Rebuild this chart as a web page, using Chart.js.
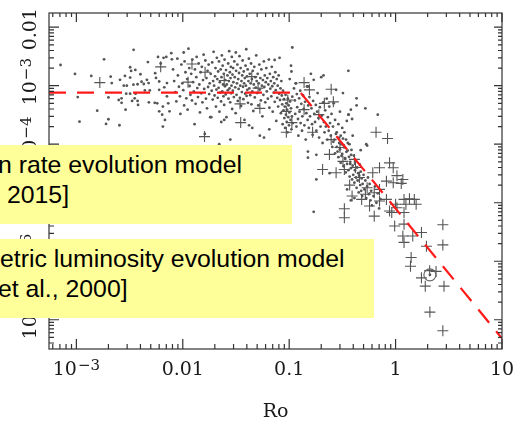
<!DOCTYPE html>
<html>
<head>
<meta charset="utf-8">
<script src="https://cdn.jsdelivr.net/npm/chart.js@4/dist/chart.umd.min.js"></script>
<style>
  body { margin: 0; background: #fff; }
  #wrap { position: relative; width: 517px; height: 424px; overflow: hidden; }
  .note { position: absolute; left: 0; background: #ffff99; overflow: hidden;
          font-family: 'Liberation Sans', Arial, sans-serif; font-size: 24.8px; color: #000; }
  .note span { position: absolute; white-space: nowrap; line-height: 29px; }
</style>
</head>
<body>
<div id="wrap">
  <canvas id="chart" width="517" height="424"></canvas>
  <div class="note" style="top:145px;width:292px;height:79px">
    <span style="left:-2px;top:5px">n rate evolution model</span>
    <span style="left:7px;top:35px">2015]</span>
  </div>
  <div class="note" style="top:239px;width:374px;height:79px">
    <span style="left:0px;top:5px">etric luminosity evolution model</span>
    <span style="left:-2px;top:35px">et al., 2000]</span>
  </div>
</div>
<script>
// axis ranges (Ro, and the y quantity)
const xMin = 5.53e-4, xMax = 10;
const yMin = 3.16e-8, yMax = 0.0175;

const xTickValues = [1e-3, 0.01, 0.1, 1, 10];
const xTickLabels = [['10', '\u22123'], ['0.01'], ['0.1'], ['1'], ['10']];
const yTickValues = [1e-7, 1e-6, 1e-5, 1e-4, 1e-3, 0.01];
const yTickLabels = [['10', '\u22127'], ['10', '\u22126'], ['10', '\u22125'], ['10', '\u22124'], ['10', '\u22123'], ['0.01']];

// red dashed model: flat (saturated) then falling
const fitRo = [5.53e-4, 0.128, 10];
const fitLum = [7.6e-4, 7.6e-4, 4.8e-8];

// small grey dots [Ro, value]
const dotPoints = [
  [7.1e-4,2.26e-3],[9.7e-4,1.59e-3],[1.38e-3,1.47e-3],[1.82e-3,2.83e-3],[1.03e-3,6.4e-4],[1.57e-3,3.75e-4],
  [1.07e-3,2.43e-4],[2.0e-3,2.67e-4],[1.9e-3,2.22e-4],[2.54e-3,2.11e-4],[2.1e-3,1.43e-3],[2.15e-3,1.11e-3],
  [2.0e-3,6.3e-4],[2.57e-3,1.26e-3],[2.86e-3,1.47e-3],[2.79e-3,1.0e-3],[2.98e-3,1.0e-3],[2.5e-3,5.7e-4],
  [2.66e-3,6.1e-4],[2.66e-3,5.1e-4],[2.9e-3,3.9e-4],[2.94e-3,7.3e-4],[3.2e-3,2.07e-3],[3.27e-3,1.79e-3],
  [3.45e-3,4.1e-3],[3.58e-3,1.86e-3],[3.2e-3,1.38e-3],[3.44e-3,1.04e-3],[3.76e-3,1.06e-3],[4.0e-3,1.57e-3],
  [3.2e-3,7.3e-4],[3.6e-3,7.3e-4],[3.53e-3,6.1e-4],[3.34e-3,5.5e-4],[3.76e-3,5.5e-4],[3.8e-3,4.7e-4],
  [4.1e-3,1.17e-3],[4.3e-3,1.07e-3],[4.7e-3,2.54e-3],[4.6e-3,1.26e-3],[4.77e-3,1.11e-3],[4.4e-3,8.3e-4],
  [4.9e-3,8.3e-4],[4.8e-3,5.2e-4],[5.45e-3,5.1e-4],[5.5e-3,1.64e-3],[5.6e-3,1.36e-3],[5.85e-3,3.1e-3],
  [6.2e-3,2.4e-3],[6.6e-3,3.0e-3],[7.0e-3,3.1e-3],[6.0e-3,1.18e-3],[6.0e-3,8.5e-4],[6.7e-3,9.4e-4],
  [7.1e-3,1.11e-3],[7.1e-3,6.6e-4],[5.75e-3,5.0e-4],[6.5e-3,4.4e-4],[7.3e-3,5.0e-4],[6.0e-3,3.65e-4],
  [6.4e-3,3.2e-4],[6.8e-3,2.6e-4],[6.5e-3,2.0e-4],[7.5e-3,3.65e-4],[7.9e-3,2.83e-3],
  [0.0078,3.6e-3],[0.0081,1.9e-3],[0.0083,1.2e-3],[0.0085,7.8e-4],[0.0087,5.4e-4],[0.0089,2.9e-3],
  [0.0090,1.5e-3],[0.0092,9.6e-4],[0.0094,6.6e-4],[0.0095,3.3e-4],[0.0097,2.3e-3],[0.0099,1.1e-3],
  [0.0101,8.4e-4],[0.0103,4.6e-4],[0.0104,2.6e-3],[0.0106,1.7e-3],[0.0108,6.1e-4],[0.0110,1.3e-3],
  [0.0111,3.9e-4],[0.0113,4.3e-3],[0.0115,2.0e-3],[0.0116,9.9e-4],[0.0118,7.0e-4],[0.0120,1.6e-3],
  [0.0122,5.6e-4],[0.0123,2.8e-3],[0.0125,1.15e-3],[0.0127,8.0e-4],[0.0129,2.2e-4],[0.0130,1.9e-3],
  [0.0132,4.9e-4],[0.0134,1.4e-3],[0.0135,3.1e-3],[0.0137,9.1e-4],[0.0139,6.4e-4],[0.0141,2.4e-3],
  [0.0143,1.05e-3],[0.0145,3.5e-4],[0.0147,1.7e-3],[0.0149,7.4e-4],[0.0151,2.1e-3],[0.0153,5.2e-4],
  [0.0155,1.25e-3],[0.0157,3.4e-3],[0.0159,8.8e-4],[0.0161,1.5e-4],[0.0163,2.7e-3],[0.0165,6.0e-4],
  [0.0167,1.35e-3],[0.0169,4.1e-4],[0.0171,1.8e-3],[0.0173,9.5e-4],[0.0175,2.3e-3],[0.0177,7.2e-4],
  [0.0179,1.1e-3],[0.0181,2.9e-4],[0.0183,1.6e-3],[0.0102,3.7e-3],[0.0187,8.2e-4],[0.0189,2.5e-3],
  [0.0191,5.8e-4],[0.0193,1.2e-3],[0.0195,3.8e-3],[0.0197,1.0e-3],[0.0199,6.8e-4],
  [0.0201,1.45e-3],[0.0203,2.0e-3],[0.0205,4.4e-4],[0.0207,8.6e-4],[0.0209,3.0e-3],[0.0211,1.3e-3],
  [0.0213,6.2e-4],[0.0215,1.75e-3],[0.0217,9.2e-4],[0.0219,2.6e-3],[0.0221,3.6e-4],[0.0223,1.15e-3],
  [0.0225,7.6e-4],[0.0227,1.9e-3],[0.0229,5.4e-4],[0.0231,1.4e-3],[0.0233,3.3e-3],[0.0235,8.0e-4],
  [0.0237,2.2e-3],[0.0239,1.05e-3],[0.0241,6.6e-4],[0.0243,1.6e-3],[0.0245,4.7e-4],[0.0247,2.8e-3],
  [0.0249,9.8e-4],[0.0251,1.25e-3],[0.0253,7.1e-4],[0.0255,1.85e-3],[0.0257,2.9e-4],[0.0259,1.05e-3],
  [0.0315,3.7e-3],[0.0263,1.5e-3],[0.0265,8.4e-4],[0.0267,2.4e-3],[0.0269,6.0e-4],[0.0271,1.2e-3],
  [0.0273,3.9e-3],[0.0275,9.0e-4],[0.0277,1.7e-3],[0.0279,5.2e-4],[0.0281,1.35e-3],[0.0283,2.1e-3],
  [0.0285,7.4e-4],[0.0287,1.0e-3],[0.0289,3.1e-3],[0.0291,4.0e-4],[0.0293,1.55e-3],[0.0295,8.2e-4],
  [0.0297,2.0e-3],[0.0299,1.15e-3],[0.0302,6.4e-4],[0.0305,2.6e-3],[0.0308,1.4e-3],[0.0311,9.4e-4],
  [0.0314,3.4e-4],[0.0317,1.8e-3],[0.0320,7.0e-4],[0.0323,1.1e-3],[0.0326,2.3e-3],[0.0329,5.5e-4],
  [0.0332,1.3e-3],[0.0335,8.8e-4],[0.0338,1.65e-3],[0.0341,3.2e-3],[0.0344,6.2e-4],[0.0347,1.0e-3],
  [0.0350,2.0e-3],[0.0353,4.5e-4],[0.0356,1.2e-3],[0.0359,7.8e-4],[0.0362,1.5e-3],[0.0365,2.7e-3],
  [0.0368,9.6e-4],[0.0371,5.9e-4],[0.0374,1.75e-3],[0.0377,1.1e-3],[0.0380,2.6e-4],[0.0383,1.35e-3],
  [0.0386,7.3e-4],[0.0389,2.2e-3],[0.0392,1.0e-3],[0.0395,4.2e-3],[0.0398,6.7e-4],[0.0401,1.45e-3],
  [0.0404,8.5e-4],[0.0407,1.9e-3],[0.0410,5.1e-4],[0.0414,1.2e-3],[0.0418,2.9e-3],[0.0422,9.0e-4],
  [0.0426,1.6e-3],[0.0430,6.9e-4],[0.0434,1.1e-3],[0.0438,2.4e-3],[0.0442,4.8e-4],[0.0446,1.3e-3],
  [0.0450,8.0e-4],[0.0455,1.8e-3],[0.0460,3.7e-4],[0.0465,1.05e-3],[0.0470,2.1e-3],[0.0475,6.3e-4],
  [0.0480,1.4e-3],[0.0485,9.3e-4],[0.0490,3.3e-3],[0.0495,1.2e-3],
  [0.0500,7.5e-4],[0.0506,1.6e-3],[0.0512,4.6e-4],[0.0518,1.1e-3],[0.0524,2.3e-3],[0.0530,8.6e-4],
  [0.0536,1.35e-3],[0.0542,5.6e-4],[0.0548,1.9e-3],[0.0554,1.0e-3],[0.0560,3.0e-4],[0.0566,1.25e-3],
  [0.0572,7.0e-4],[0.0578,2.6e-3],[0.0584,9.5e-4],[0.0590,1.5e-3],[0.0596,5.2e-4],[0.0602,1.15e-3],
  [0.0609,2.0e-3],[0.0616,8.0e-4],[0.0623,1.35e-3],[0.0630,6.0e-4],[0.0637,1.05e-3],[0.0644,2.8e-3],
  [0.0651,4.2e-4],[0.0658,1.6e-3],[0.0665,8.9e-4],[0.0672,1.2e-3],[0.0679,6.6e-4],[0.0686,2.1e-3],
  [0.0693,9.8e-4],[0.0700,3.6e-4],[0.0708,1.4e-3],[0.0716,7.6e-4],[0.0724,1.1e-3],[0.0732,5.3e-4],
  [0.0740,1.7e-3],[0.0748,8.4e-4],[0.0756,2.5e-4],[0.0764,1.3e-3],[0.0772,6.2e-4],[0.0780,1.0e-3],
  [0.0788,4.4e-4],[0.0796,1.5e-3],[0.0804,7.3e-4],[0.0812,3.0e-3],[0.0820,5.7e-4],[0.0828,9.0e-4],
  [0.0836,3.4e-4],[0.0844,1.2e-3],[0.0852,6.8e-4],[0.0860,4.8e-4],[0.0868,2.2e-4],[0.0876,8.2e-4],
  [0.0884,3.8e-4],[0.0892,5.9e-4],[0.0900,2.8e-4],[0.0908,4.4e-4],[0.0916,1.9e-4],[0.0924,7.0e-4],
  [0.0932,3.2e-4],[0.0940,5.0e-4],[0.0948,2.4e-4],[0.0956,3.9e-4],[0.0964,1.6e-4],[0.0972,6.0e-4],
  [0.0980,2.9e-4],[0.0988,4.6e-4],[0.0996,2.1e-4],[0.1004,3.5e-4],[0.1012,1.3e-3],[0.1020,5.4e-4],
  [0.103,2.6e-4],[0.104,4.1e-4],[0.105,1.8e-4],[0.106,3.0e-4],[0.107,6.5e-4],[0.108,2.3e-4],[0.107,4.5e-3],
  [0.104,2.2e-3],[0.105,1.75e-3],[0.116,1.1e-3],[0.15,9.7e-4],
  [0.023,2.4e-4],[0.0245,2.6e-4],[0.028,1.2e-4],[0.022,1.0e-4],[0.045,1.9e-4],[0.053,1.4e-4],
  [0.058,1.3e-4],[0.065,1.8e-4],[0.042,2.1e-4],[0.0185,2.9e-4],[0.073,2.75e-3],
  [0.111,9.0e-4],[0.113,5.6e-4],[0.114,3.3e-4],[0.115,1.1e-3],[0.117,2.0e-4],[0.118,7.2e-4],
  [0.119,4.3e-4],[0.121,2.7e-4],[0.122,1.4e-4],[0.124,6.1e-4],[0.125,3.6e-4],[0.127,8.2e-4],
  [0.128,2.3e-4],[0.130,4.9e-4],[0.132,1.7e-4],[0.133,3.0e-4],[0.135,6.8e-4],[0.137,4.0e-4],
  [0.139,2.1e-4],[0.141,5.3e-4],[0.143,1.2e-4],[0.145,3.4e-4],[0.147,9.7e-4],[0.149,2.6e-4],
  [0.151,4.6e-4],[0.153,1.9e-4],[0.155,6.4e-4],[0.157,3.0e-4],[0.160,1.6e-3],[0.162,4.1e-4],
  [0.164,2.2e-4],[0.166,1.45e-4],[0.168,5.5e-4],[0.170,1.26e-3],[0.172,3.3e-4],[0.175,2.4e-4],
  [0.178,4.7e-4],[0.180,1.7e-4],[0.183,3.6e-4],[0.185,7.5e-4],[0.188,2.8e-4],[0.191,1.3e-4],
  [0.194,4.3e-4],[0.197,2.0e-4],[0.200,1.4e-3],[0.203,3.1e-4],[0.206,1.05e-4],[0.209,5.2e-4],
  [0.210,1.5e-3],[0.212,2.4e-4],[0.215,1.6e-4],[0.218,3.8e-4],[0.221,2.0e-4],[0.225,6.0e-4],
  [0.228,1.2e-4],[0.231,2.9e-4],[0.235,1.7e-4],[0.238,4.4e-4],[0.242,2.3e-4],[0.246,1.4e-4],
  [0.250,3.3e-4],[0.254,9.0e-5],[0.258,2.0e-4],[0.262,5.0e-4],[0.266,1.2e-4],[0.270,2.6e-4],
  [0.276,8.5e-4],[0.280,1.6e-4],[0.285,7.5e-5],[0.290,2.2e-4],[0.295,1.05e-4],[0.300,3.6e-4],
  [0.305,1.4e-4],[0.310,6.3e-5],[0.315,1.9e-4],[0.32,7.5e-4],[0.325,9.6e-5],[0.330,1.6e-4],
  [0.336,5.6e-5],[0.342,1.2e-4],[0.348,2.5e-4],[0.355,7.8e-5],[0.36,1.8e-3],[0.362,3.2e-4],
  [0.368,1.0e-4],[0.375,4.6e-5],[0.38,3.9e-4],[0.382,6.6e-5],[0.39,2.7e-4],[0.395,1.4e-4],
  [0.43,6.1e-4],[0.43,4.6e-4],[0.52,4.1e-4],[0.68,3.2e-4],[0.36,3.2e-4],
  [0.26,1.1e-4],[0.27,7.0e-5],[0.275,1.5e-4],[0.28,9.0e-5],[0.29,6.0e-5],[0.295,1.3e-4],
  [0.30,8.2e-5],[0.305,4.8e-5],[0.31,1.0e-4],[0.315,6.8e-5],[0.32,1.25e-4],[0.325,4.2e-5],
  [0.33,8.8e-5],[0.335,5.8e-5],[0.34,3.3e-5],[0.345,7.4e-5],[0.35,4.6e-5],[0.355,1.05e-4],
  [0.36,3.6e-5],[0.365,6.1e-5],[0.37,2.8e-5],[0.375,5.0e-5],[0.38,3.9e-5],[0.385,8.0e-5],
  [0.39,2.5e-5],[0.395,4.3e-5],[0.40,3.0e-5],[0.405,6.4e-5],[0.41,2.2e-5],[0.415,3.6e-5],
  [0.42,5.2e-5],[0.425,2.7e-5],[0.43,1.8e-5],[0.435,4.0e-5],[0.44,2.4e-5],[0.445,3.2e-5],
  [0.45,1.5e-5],[0.455,2.9e-5],[0.46,4.5e-5],[0.465,2.0e-5],[0.47,3.4e-5],[0.475,1.6e-5],
  [0.48,2.6e-5],[0.485,1.3e-5],[0.49,2.1e-5],[0.50,3.0e-5],[0.51,1.7e-5],[0.52,2.4e-5],
  [0.53,1.2e-5],[0.54,1.9e-5],[0.55,2.7e-5],[0.56,1.4e-5],[0.57,2.1e-5],[0.58,1.1e-5],
  [0.59,1.6e-5],[0.60,9.0e-6],[0.62,1.3e-5],[0.64,1.9e-5],[0.66,1.0e-5],[0.68,1.45e-5],
  [0.70,8.0e-6],[0.72,1.15e-5],[0.47,7.9e-5],[0.54,9.5e-5],[0.53,1.0e-4],[0.15,5.9e-5],
  [0.18,6.6e-5],[0.18,2.5e-5],[0.17,7.0e-6],[0.35,1.69e-5],[0.41,1.2e-5],[0.38,1.1e-5],
  [0.24,3.2e-5],[0.15,7.5e-5],[2.1,5.85e-7]
];

// plus markers [Ro, value]
const crossPoints = [
  [1.66e-3,1.13e-3],[6.2e-3,2.1e-3],[0.0122,2.35e-3],[0.0162,1.7e-3],[0.0112,1.15e-3],[0.0245,1.23e-3],
  [0.0445,1.43e-3],[0.051,9.1e-4],[0.0345,4.9e-4],[0.053,4.1e-4],[0.035,2.34e-4],[0.016,1.35e-4],
  [0.094,1.6e-4],[0.094,3.65e-4],[0.097,5.7e-4],[0.138,1.13e-3],[0.155,8.5e-4],[0.248,8.7e-4],
  [0.214,5.0e-4],[0.26,5.3e-4],[0.138,3.9e-4],[0.106,2.34e-4],[0.166,1.6e-4],[0.248,1.2e-4],
  [0.655,1.6e-4],[0.84,1.25e-4],[0.206,3.7e-5],[0.276,3.25e-5],[0.239,6.7e-5],[0.32,5.1e-5],
  [0.33,3.7e-5],[0.706,3.95e-5],[0.877,4.8e-5],[0.95,3.95e-5],[0.61,3.25e-5],[0.82,2.34e-5],
  [0.95,2.2e-5],[0.54,1.8e-5],[0.63,1.48e-5],[0.569,8.8e-6],[0.706,1.07e-5],[0.82,1.14e-5],
  [1.0,9.4e-6],[0.63,5.9e-6],[0.877,7.2e-6],[0.33,7.9e-6],[0.33,5.55e-6],[1.03,2.9e-5],
  [1.17,2.5e-5],[1.13,2.14e-5],[1.2,1.14e-5],[1.35,1.17e-5],[1.5,1.14e-5],[1.56,9.4e-6],
  [1.25,9.4e-6],[1.03,8.2e-6],[0.92,6.8e-6],[1.2,6.8e-6],[0.98,4.0e-6],[1.2,4.3e-6],
  [2.78,4.2e-6],[1.17,2.7e-6],[1.45,2.7e-6],[1.75,3.1e-6],[1.2,2.1e-6],[1.95,1.8e-6],
  [2.78,1.9e-6],[1.4,1.16e-6],[1.38,8.2e-7],[1.75,5.2e-7],[2.09,6.9e-7],[2.4,6.7e-7],
  [1.9,3.75e-7],[2.85,3.75e-7],[2.1,1.35e-7],[2.78,6.5e-8],
  [0.41,5.5e-5],[0.457,2.7e-5],[0.37,2.0e-5],[0.52,1.4e-5],[0.19,3.2e-4],[0.3,8.8e-5],
  [0.42,4.0e-5],[0.48,1.14e-5],[0.706,1.69e-5],[0.39,1.3e-5]
];

// open circle marker
const circlePoints = [[2.1, 5.85e-7]];

const toXY = arr => arr.map(p => ({ x: p[0], y: p[1] }));

const TICK_FONT = '"DejaVu Serif", serif';

function drawLabel(ctx, parts, x, y, rotate) {
  ctx.save();
  ctx.translate(x, y);
  if (rotate) ctx.rotate(-Math.PI / 2);
  ctx.fillStyle = '#1a1a1a';
  ctx.textAlign = 'left';
  ctx.textBaseline = 'alphabetic';
  ctx.font = '19px ' + TICK_FONT;
  const wBase = ctx.measureText(parts[0]).width;
  let wSup = 0;
  if (parts[1]) {
    ctx.font = '15px ' + TICK_FONT;
    wSup = ctx.measureText(parts[1]).width + 1;
  }
  const start = -(wBase + wSup) / 2;
  ctx.font = '19px ' + TICK_FONT;
  ctx.fillText(parts[0], start, 0);
  if (parts[1]) {
    ctx.font = '15px ' + TICK_FONT;
    ctx.fillText(parts[1], start + wBase + 1, -5);
  }
  ctx.restore();
}

const framePlugin = {
  id: 'frame',
  afterDatasetsDraw(chart) {
    const { ctx, chartArea: a, scales: { x, y } } = chart;
    ctx.save();
    ctx.strokeStyle = '#333';
    ctx.lineWidth = 1.2;
    ctx.strokeRect(a.left, a.top, a.right - a.left, a.bottom - a.top);
    ctx.beginPath();
    for (let d = -4; d <= 1; d++) {
      for (let k = 1; k <= 9; k++) {
        const v = k * Math.pow(10, d);
        if (v < x.min || v > x.max) continue;
        const px = x.getPixelForValue(v);
        const len = k === 1 ? 10 : 5;
        ctx.moveTo(px, a.bottom); ctx.lineTo(px, a.bottom - len);
        ctx.moveTo(px, a.top); ctx.lineTo(px, a.top + (k === 1 ? 9 : 4));
      }
    }
    for (let d = -8; d <= -1; d++) {
      for (let k = 1; k <= 9; k++) {
        const v = k * Math.pow(10, d);
        if (v < y.min || v > y.max) continue;
        const py = y.getPixelForValue(v);
        ctx.moveTo(a.left, py); ctx.lineTo(a.left + (k === 1 ? 10 : 5), py);
        ctx.moveTo(a.right, py); ctx.lineTo(a.right - (k === 1 ? 8 : 4), py);
      }
    }
    ctx.stroke();
    ctx.restore();
  },
  afterDraw(chart) {
    const { ctx, scales: { x, y } } = chart;
    xTickValues.forEach((v, i) => drawLabel(ctx, xTickLabels[i], x.getPixelForValue(v), 375, false));
    yTickValues.forEach((v, i) => {
      const off = yTickLabels[i].length > 1 ? -4 : 2;
      drawLabel(ctx, yTickLabels[i], 36, y.getPixelForValue(v) + off, true);
    });
    ctx.save();
    ctx.fillStyle = '#1a1a1a';
    ctx.font = '19px ' + TICK_FONT;
    ctx.textAlign = 'center';
    ctx.fillText('Ro', (chart.chartArea.left + chart.chartArea.right) / 2, 417);
    ctx.restore();
  }
};

new Chart(document.getElementById('chart'), {
  type: 'scatter',
  data: {
    datasets: [
      {
        label: 'model',
        data: fitRo.map((r, i) => ({ x: r, y: fitLum[i] })),
        showLine: true,
        borderColor: '#ff1a1a',
        borderWidth: 2.2,
        borderDash: [17, 11],
        pointRadius: 0,
        fill: false
      },
      {
        label: 'circle',
        data: toXY(circlePoints),
        pointStyle: 'circle',
        pointRadius: 6,
        backgroundColor: 'rgba(0,0,0,0)',
        borderColor: '#666',
        borderWidth: 1.2
      },
      {
        label: 'plus',
        data: toXY(crossPoints),
        pointStyle: 'cross',
        pointRadius: 5.5,
        borderColor: '#555',
        borderWidth: 1.1
      },
      {
        label: 'dots',
        data: toXY(dotPoints),
        pointStyle: 'circle',
        pointRadius: 1.4,
        backgroundColor: '#555',
        borderWidth: 0
      }
    ]
  },
  options: {
    responsive: false,
    animation: false,
    layout: { padding: { left: 49, top: 13, right: 15, bottom: 75 } },
    plugins: { legend: { display: false }, tooltip: { enabled: false } },
    scales: {
      x: { type: 'logarithmic', min: xMin, max: xMax, bounds: 'data', display: false },
      y: { type: 'logarithmic', min: yMin, max: yMax, bounds: 'data', display: false }
    }
  },
  plugins: [framePlugin]
});
</script>
</body>
</html>
